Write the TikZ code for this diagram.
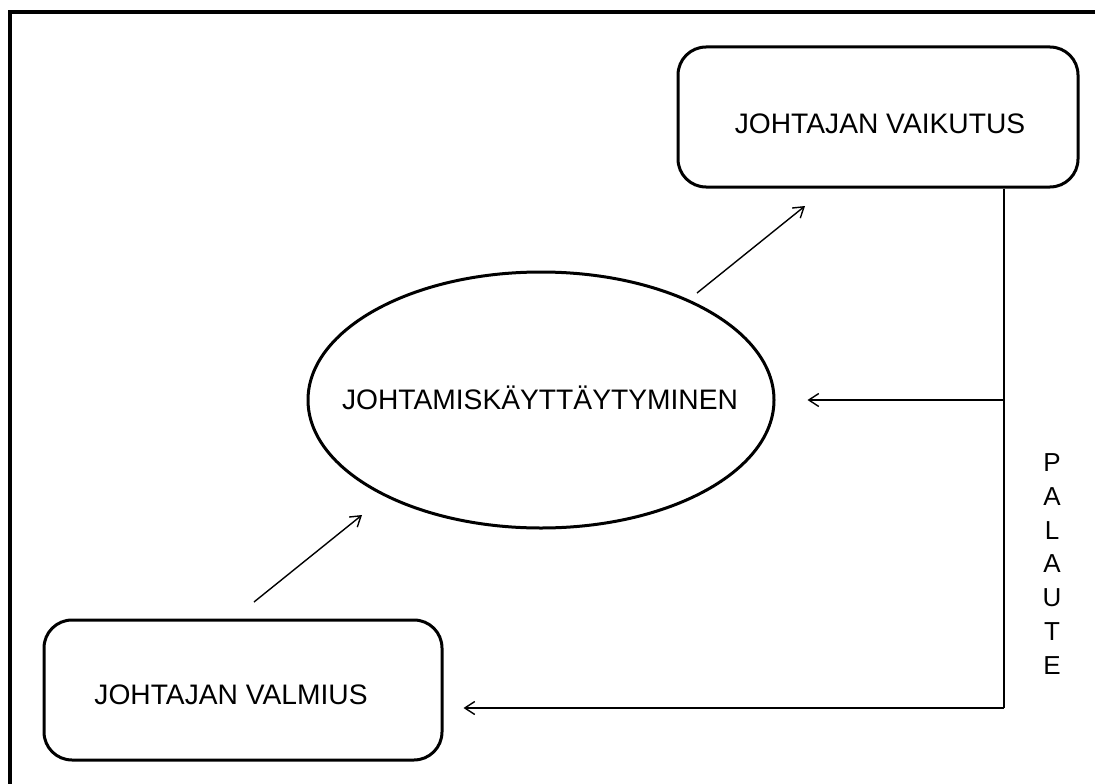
\documentclass[tikz,border=0pt]{standalone}
\usepackage{fontspec}
\setmainfont{Liberation Sans}
\usetikzlibrary{arrows.meta,shapes.geometric}

\tikzset{
  roundbox/.style={draw, line width=3pt, rounded corners=28pt, inner sep=0pt,
    minimum width=400pt, minimum height=140pt},
  oval/.style={draw, ellipse, line width=3pt, inner sep=0pt,
    minimum width=466pt, minimum height=256pt},
  label/.style={font=\fontsize{28.2}{33}\selectfont, inner sep=0pt},
  link/.style={line width=1.4pt, -{Straight Barb[length=10pt,width=13pt,line width=1.4pt]}},
  plain/.style={line width=1.4pt},
}

\begin{document}
\begin{tikzpicture}[x=1pt, y=-1pt]
  \useasboundingbox (0,0) rectangle (1095,784);
  \clip (0,0) rectangle (1095,784);
  % outer frame, running past the page edge on the right and bottom
  \draw[line width=3.5pt] (10,12) rectangle (1200,900);

  % shapes
  \node[roundbox] (vaikutus) at (878,117) {};
  \node[roundbox, minimum width=398pt] (valmius) at (243,690) {};
  \node[oval] (kaytos) at (541,400) {};

  % texts
  \node[label] (tvaik) at (880,124) {JOHTAJAN VAIKUTUS};
  \node[label] (tvalm) at (231,695) {JOHTAJAN VALMIUS};
  \node[label] (tkayt) at (540,398) {JOHTAMISKÄYTTÄYTYMINEN};
  \node[font=\fontsize{26}{33.8}\selectfont, align=center, inner sep=0pt] (palaute) at (1052,564)
    {P\\A\\L\\A\\U\\T\\E};

  % connector end points
  \coordinate (a1) at (254,602);
  \coordinate (a2) at (362,515);
  \coordinate (b1) at (697,293);
  \coordinate (b2) at (805,206);
  \coordinate (fbtop) at ([xshift=126pt]vaikutus.south);
  \coordinate (fbmid) at (1004,400);
  \coordinate (fbend) at (1004,708);
  \coordinate (tomid) at ([xshift=32pt]kaytos.east |- fbmid);
  \coordinate (tolow) at ([xshift=20pt]valmius.east |- fbend);

  % connectors
  \draw[link] (a1) -- (a2);
  \draw[link] (b1) -- (b2);
  \draw[plain] (fbtop) -- (fbend);
  \draw[link] (fbmid) -- (tomid);
  \draw[link] (fbend) -- (tolow);
\end{tikzpicture}
\end{document}
